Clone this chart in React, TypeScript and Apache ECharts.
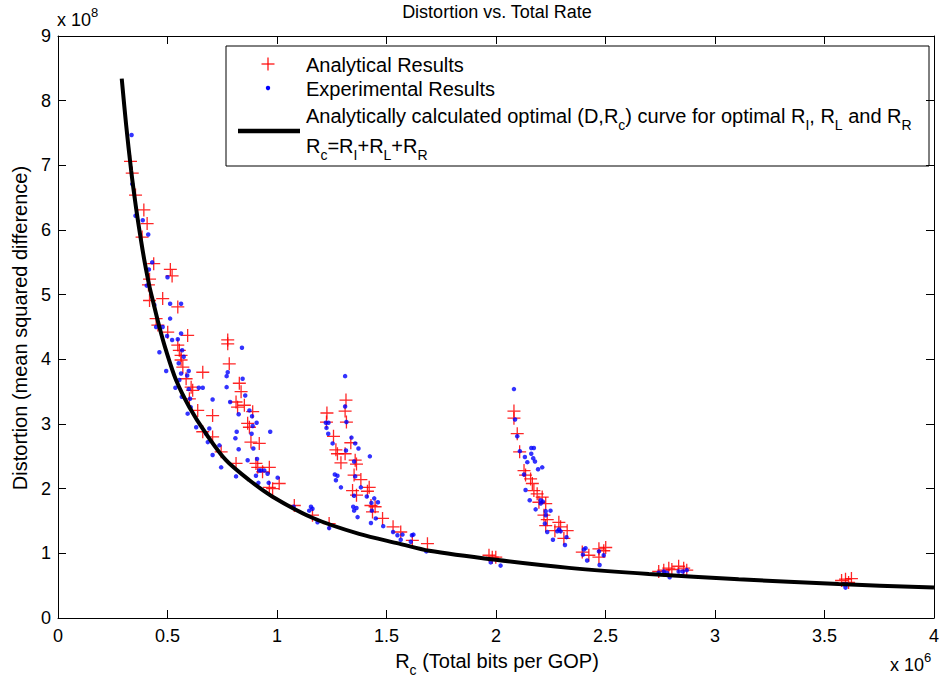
import React, { useEffect, useRef } from "react";
import * as echarts from "echarts";

// Units: rate in 10^6 bits per GOP, distortion in 10^8
const analyticalResults: [number, number][] = [
  [0.331, 7.06], [0.339, 6.88], [0.354, 6.54], [0.392, 6.31], [0.407, 6.10], [0.384, 5.89],
  [0.437, 5.48], [0.513, 5.39], [0.521, 5.29], [0.418, 5.24], [0.413, 5.15], [0.478, 4.94],
  [0.418, 4.91], [0.547, 4.81], [0.448, 4.63], [0.456, 4.53], [0.501, 4.42], [0.592, 4.37],
  [0.547, 4.22], [0.554, 4.14], [0.562, 4.06], [0.562, 3.99], [0.570, 3.88], [0.661, 3.80],
  [0.585, 3.70], [0.608, 3.57], [0.615, 3.52], [0.600, 3.39], [0.638, 3.21], [0.706, 3.13],
  [0.661, 2.88], [0.706, 2.80], [0.745, 2.57], [0.813, 2.39],
  [0.775, 4.30], [0.775, 4.24], [0.782, 3.93], [0.828, 3.63], [0.836, 3.50], [0.813, 3.34],
  [0.820, 3.26], [0.851, 3.29], [0.889, 3.19], [0.866, 3.01], [0.874, 2.95], [0.881, 2.72],
  [0.919, 2.70], [0.904, 2.39], [0.912, 2.33], [0.965, 2.33], [0.934, 2.26], [0.965, 2.02],
  [1.010, 2.08], [0.980, 2.00], [1.079, 1.74], [1.162, 1.59], [1.238, 1.46],
  [1.315, 3.37], [1.311, 3.20], [1.228, 3.17], [1.226, 3.03], [1.317, 3.03], [1.258, 2.81],
  [1.337, 2.71], [1.269, 2.60], [1.276, 2.54], [1.311, 2.54], [1.292, 2.40], [1.357, 2.44],
  [1.363, 2.38], [1.352, 2.21], [1.383, 2.14], [1.421, 2.02], [1.345, 1.97], [1.363, 1.90],
  [1.413, 1.96], [1.429, 1.74], [1.448, 1.72], [1.436, 1.64], [1.482, 1.54], [1.530, 1.41],
  [1.565, 1.33], [1.618, 1.20], [1.687, 1.15],
  [2.082, 3.20], [2.082, 3.09], [2.097, 2.85], [2.108, 2.57], [2.128, 2.28], [2.135, 2.21],
  [2.158, 2.15], [2.166, 2.08], [2.173, 1.97], [2.188, 1.92], [2.211, 1.87], [2.196, 1.79],
  [2.227, 1.77], [2.219, 1.59], [2.234, 1.52], [2.227, 1.43], [2.287, 1.48], [2.295, 1.41],
  [2.325, 1.35], [2.310, 1.23], [2.269, 1.35],
  [1.983, 0.94], [1.999, 0.94], [1.968, 0.97],
  [2.394, 1.02], [2.424, 0.97], [2.470, 1.07], [2.492, 1.04], [2.470, 0.94], [2.501, 1.09],
  [2.766, 0.74], [2.789, 0.77], [2.803, 0.75], [2.743, 0.72],
  [2.834, 0.80], [2.857, 0.77], [2.871, 0.74],
  [3.578, 0.58], [3.596, 0.60], [3.610, 0.55], [3.623, 0.61],
];

const experimentalResults: [number, number][] = [
  [0.336, 7.47], [0.339, 6.71], [0.354, 6.22], [0.387, 6.15], [0.412, 5.93], [0.430, 5.50],
  [0.415, 5.39], [0.500, 5.27], [0.405, 5.14], [0.440, 4.84], [0.512, 4.86], [0.562, 4.86],
  [0.512, 4.63], [0.448, 4.50], [0.478, 4.50], [0.562, 4.40], [0.498, 4.36], [0.521, 4.30],
  [0.547, 4.31], [0.463, 4.11], [0.567, 4.14], [0.574, 4.04], [0.551, 3.94], [0.597, 3.82],
  [0.562, 3.78], [0.590, 3.75], [0.494, 3.82], [0.554, 3.68], [0.536, 3.56], [0.597, 3.54],
  [0.643, 3.56], [0.661, 3.56], [0.565, 3.42], [0.603, 3.39], [0.606, 3.26], [0.592, 3.16],
  [0.631, 2.95], [0.691, 2.93], [0.676, 2.85], [0.684, 2.72], [0.737, 2.67], [0.706, 2.52],
  [0.745, 2.33], [0.813, 2.19], [0.706, 3.38],
  [0.840, 4.18], [0.775, 3.80], [0.770, 3.74], [0.843, 3.70], [0.770, 3.57], [0.855, 3.44],
  [0.786, 3.34], [0.825, 3.15], [0.874, 3.21], [0.886, 3.12], [0.907, 3.02], [0.889, 2.97],
  [0.816, 2.88], [0.810, 2.78], [0.884, 2.85], [0.969, 2.88], [0.825, 2.61], [0.892, 2.62],
  [0.866, 2.44], [0.909, 2.46], [0.919, 2.28], [0.927, 2.28], [0.942, 2.28], [0.904, 2.20],
  [0.957, 2.23], [1.003, 2.17], [0.915, 2.09], [0.962, 2.09],
  [1.155, 1.72], [1.162, 1.69], [1.147, 1.66], [1.185, 1.48], [1.238, 1.39], [1.076, 1.72],
  [1.311, 3.74], [1.311, 3.27], [1.317, 3.03], [1.223, 3.02], [1.235, 3.02], [1.226, 2.94],
  [1.234, 2.85], [1.254, 2.70], [1.340, 2.79], [1.357, 2.70], [1.372, 2.62], [1.315, 2.59],
  [1.424, 2.50], [1.352, 2.42], [1.264, 2.22], [1.276, 2.20], [1.269, 2.13], [1.292, 2.02],
  [1.357, 2.19], [1.383, 2.02], [1.410, 1.88], [1.444, 1.85], [1.461, 1.79], [1.431, 1.78],
  [1.352, 1.89], [1.348, 1.72], [1.363, 1.70], [1.352, 1.66], [1.433, 1.66], [1.368, 1.56],
  [1.451, 1.54], [1.429, 1.47], [1.485, 1.42], [1.530, 1.33], [1.550, 1.28], [1.573, 1.29],
  [1.565, 1.21], [1.616, 1.28], [1.623, 1.29], [1.611, 1.18], [1.682, 1.03],
  [2.082, 3.54], [2.087, 3.07], [2.097, 2.81], [2.161, 2.63], [2.173, 2.63], [2.161, 2.54],
  [2.132, 2.49], [2.170, 2.47], [2.178, 2.42], [2.143, 2.41], [2.211, 2.33], [2.192, 2.30],
  [2.109, 2.58], [2.128, 2.22], [2.135, 1.98], [2.154, 1.82], [2.204, 1.82], [2.214, 1.80],
  [2.204, 1.77], [2.181, 1.68], [2.249, 1.66], [2.227, 1.65], [2.227, 1.59], [2.223, 1.46],
  [2.234, 1.33], [2.287, 1.37], [2.280, 1.34], [2.295, 1.34], [2.260, 1.21], [2.322, 1.25],
  [2.315, 1.13],
  [2.401, 1.06], [2.409, 1.08], [2.397, 0.98], [2.416, 0.89], [2.470, 1.03], [2.492, 0.97],
  [2.473, 0.82], [1.976, 0.86], [2.021, 0.81],
  [2.743, 0.70], [2.766, 0.72], [2.780, 0.70], [2.793, 0.63], [2.834, 0.72], [2.853, 0.72],
  [2.871, 0.74], [3.587, 0.52], [3.601, 0.52], [3.596, 0.47],
];

const curveRate = [
  0.291, 0.311, 0.334, 0.357, 0.380, 0.395, 0.418, 0.433, 0.463, 0.494, 0.539, 0.600, 0.676,
  0.767, 0.874, 0.978, 1.161, 1.375, 1.558, 1.695, 1.999, 2.333, 2.698, 3.108, 3.564, 4.0,
];
const curveDistortion = [
  8.34, 7.63, 6.92, 6.33, 5.82, 5.52, 5.12, 4.91, 4.50, 4.13, 3.68, 3.26, 2.85,
  2.44, 2.13, 1.88, 1.55, 1.30, 1.15, 1.04, 0.90, 0.775, 0.68, 0.60, 0.525, 0.47,
];

const xTicks = [0, 0.5, 1, 1.5, 2, 2.5, 3, 3.5, 4];
const yTicks = [0, 1, 2, 3, 4, 5, 6, 7, 8, 9];

const FONT = '"Liberation Sans", Arial, Helvetica, sans-serif';
const FS = 18; // tick labels, title, exponents
const LFS = 20; // axis labels, legend
const PLUS = "path://M-6,-0.6h12v1.2h-12z M-0.6,-6h1.2v12h-1.2z";

const expRich = {
  n: { fontSize: FS, fontFamily: FONT, color: "#000", lineHeight: 28, verticalAlign: "middle" },
  p: { fontSize: 13, fontFamily: FONT, color: "#000", lineHeight: 13, verticalAlign: "top" },
};
const labelRich = {
  n: { fontSize: LFS, fontFamily: FONT, color: "#000", lineHeight: 32, verticalAlign: "middle" },
  s: { fontSize: 14, fontFamily: FONT, color: "#000", lineHeight: 14, verticalAlign: "bottom" },
};

export default function App() {
  const ref = useRef<HTMLDivElement>(null);
  useEffect(() => {
    if (!ref.current) return;
    const chart = echarts.init(ref.current, null, { renderer: "svg" });
    const axisCommon = {
      type: "value",
      axisLine: { show: true, onZero: false, lineStyle: { color: "#000", width: 1 } },
      axisTick: { show: true, inside: true, length: 8, lineStyle: { color: "#000", width: 1 } },
      splitLine: { show: false },
    };
    const xMin = xTicks[0], xMax = xTicks[xTicks.length - 1];
    const yMin = yTicks[0], yMax = yTicks[yTicks.length - 1];
    const curve = curveRate.map((r, i) => [r, curveDistortion[i]]);
    chart.setOption({
      animation: false,
      backgroundColor: "#fff",
      grid: { left: 58, top: 36, right: 6, bottom: 66, containLabel: false },
      xAxis: [
        {
          ...axisCommon, position: "bottom", min: xMin, max: xMax, interval: 0.5,
          axisLabel: { show: true, color: "#000", fontSize: FS, fontFamily: FONT, margin: 9, formatter: (v: number) => String(v) },
        },
        {
          ...axisCommon, position: "top", min: xMin, max: xMax, interval: 0.5,
          axisLabel: { show: false },
        },
      ],
      yAxis: [
        {
          ...axisCommon, position: "left", min: yMin, max: yMax, interval: 1,
          axisLabel: { show: true, color: "#000", fontSize: FS, fontFamily: FONT, margin: 7, formatter: (v: number) => String(v) },
        },
        {
          ...axisCommon, position: "right", min: yMin, max: yMax, interval: 1,
          axisLabel: { show: false },
        },
      ],
      series: [
        {
          name: "Analytical Results",
          type: "scatter",
          data: analyticalResults,
          symbol: PLUS,
          symbolSize: 13,
          itemStyle: { color: "#ff0000", opacity: 0.85 },
          emphasis: { disabled: true },
          z: 2,
        },
        {
          name: "Experimental Results",
          type: "scatter",
          data: experimentalResults,
          symbol: "circle",
          symbolSize: 4.5,
          itemStyle: { color: "#0000ff" },
          emphasis: { disabled: true },
          z: 3,
        },
        {
          name: "Analytically calculated optimal curve",
          type: "line",
          data: curve,
          smooth: 0.3,
          showSymbol: false,
          symbol: "none",
          lineStyle: { color: "#000", width: 4 },
          emphasis: { disabled: true },
          z: 4,
        },
      ],
      graphic: [
        {
          type: "text", x: 497, y: 12,
          style: { text: "Distortion vs. Total Rate", fontSize: FS, fontFamily: FONT, fill: "#000", align: "center", verticalAlign: "middle" },
        },
        {
          type: "text", x: 20, y: 328, rotation: Math.PI / 2,
          style: { text: "Distortion (mean squared difference)", fontSize: LFS, fontFamily: FONT, fill: "#000", align: "center", verticalAlign: "middle" },
        },
        {
          type: "text", x: 497, y: 661,
          style: { text: "{n|R}{s|c}{n| (Total bits per GOP)}", rich: labelRich, align: "center", verticalAlign: "middle" },
        },
        {
          type: "text", x: 57, y: 20,
          style: { text: "{n|x 10}{p|8}", rich: expRich, align: "left", verticalAlign: "middle" },
        },
        {
          type: "text", x: 890, y: 665,
          style: { text: "{n|x 10}{p|6}", rich: expRich, align: "left", verticalAlign: "middle" },
        },
        {
          type: "group", z: 100,
          children: [
            { type: "rect", shape: { x: 226, y: 46, width: 703, height: 120 }, style: { fill: "#fff", stroke: "#000", lineWidth: 1 } },
            { type: "line", shape: { x1: 261.5, y1: 64, x2: 274.5, y2: 64 }, style: { stroke: "#ff0000", lineWidth: 1.2 } },
            { type: "line", shape: { x1: 268, y1: 57.5, x2: 268, y2: 70.5 }, style: { stroke: "#ff0000", lineWidth: 1.2 } },
            { type: "text", x: 306, y: 65, style: { text: "Analytical Results", fontSize: LFS, fontFamily: FONT, fill: "#000", align: "left", verticalAlign: "middle" } },
            { type: "circle", shape: { cx: 268, cy: 88, r: 2.2 }, style: { fill: "#0000ff" } },
            { type: "text", x: 306, y: 89, style: { text: "Experimental Results", fontSize: LFS, fontFamily: FONT, fill: "#000", align: "left", verticalAlign: "middle" } },
            {
              type: "text", x: 306, y: 116,
              style: {
                text: "{n|Analytically calculated optimal (D,R}{s|c}{n|) curve for optimal R}{s|I}{n|, R}{s|L}{n| and R}{s|R}",
                rich: labelRich, align: "left", verticalAlign: "middle",
              },
            },
            { type: "line", shape: { x1: 238, y1: 131, x2: 300, y2: 131 }, style: { stroke: "#000", lineWidth: 4.5 } },
            {
              type: "text", x: 306, y: 146,
              style: { text: "{n|R}{s|c}{n|=R}{s|I}{n|+R}{s|L}{n|+R}{s|R}", rich: labelRich, align: "left", verticalAlign: "middle" },
            },
          ],
        },
      ],
    });
    return () => chart.dispose();
  }, []);
  return (
    <div
      ref={ref}
      style={{ position: "fixed", left: 0, top: 0, width: 942, height: 684, background: "#fff" }}
    />
  );
}
